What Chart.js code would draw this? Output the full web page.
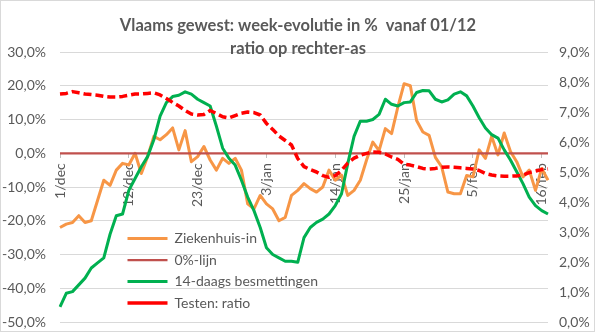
<!DOCTYPE html>
<html>
<head>
<meta charset="utf-8">
<script src="https://cdn.jsdelivr.net/npm/chart.js@4/dist/chart.umd.min.js"></script>
<style>
  body { margin: 0; background: #fff; }
  canvas { display: block; }
</style>
</head>
<body>
<canvas id="chart" width="595" height="332"></canvas>
<script>
/* DATA */

const titleLines = ['Vlaams gewest: week-evolutie in %  vanaf 01/12', 'ratio op rechter-as'];

const days = [
  '1/dec', '2/dec', '3/dec', '4/dec', '5/dec', '6/dec', '7/dec', '8/dec', '9/dec', '10/dec',
  '11/dec', '12/dec', '13/dec', '14/dec', '15/dec', '16/dec', '17/dec', '18/dec', '19/dec', '20/dec',
  '21/dec', '22/dec', '23/dec', '24/dec', '25/dec', '26/dec', '27/dec', '28/dec', '29/dec', '30/dec',
  '31/dec', '1/jan', '2/jan', '3/jan', '4/jan', '5/jan', '6/jan', '7/jan', '8/jan', '9/jan',
  '10/jan', '11/jan', '12/jan', '13/jan', '14/jan', '15/jan', '16/jan', '17/jan', '18/jan', '19/jan',
  '20/jan', '21/jan', '22/jan', '23/jan', '24/jan', '25/jan', '26/jan', '27/jan', '28/jan', '29/jan',
  '30/jan', '31/jan', '1/feb', '2/feb', '3/feb', '4/feb', '5/feb', '6/feb', '7/feb', '8/feb',
  '9/feb', '10/feb', '11/feb', '12/feb', '13/feb', '14/feb', '15/feb', '16/feb', '17/feb',
];

// shown every 11 days on the axis
const shownDays = ['1/dec', '12/dec', '23/dec', '3/jan', '14/jan', '25/jan', '5/feb', '16/feb'];

const seriesNames = ['Ziekenhuis-in', '0%-lijn', '14-daags besmettingen', 'Testen: ratio'];

// left axis, % week-evolution
const hospital = [
  -22, -21, -20.5, -18.5, -20.5, -20, -14, -8, -9.5, -5,
  -3, -3.5, 0, -6, -1, 5, 4, 5.5, 7.5, 1,
  6.7, -2.5, -1, 2, -2, -5, -1.5, -3, -1.5, -5,
  -15, -16.5, -12.5, -15, -16.5, -20, -19, -12.5, -11, -9,
  -10.5, -11.5, -10, -5, -8, -6.5, -12.5, -11, -8, -2,
  3.3, 0.8, 7.3, 5.8, 13.7, 20.6, 20, 9.7, 6.3, 5.3,
  -1.2, -4, -11.5, -12, -12, -6.6, -7, 1, -1.5, 5,
  -0.5, 6, 0.5, -2.5, -7, -5, -11, -4.5, -8,
];

const zeroLine = days.map(() => 0);

const infections = [
  -45.5, -41.5, -41, -39, -37, -34, -32.5, -31, -24, -18.5,
  -18, -11, -7.5, -4, -1, 4, 11, 15, 16.8, 17.2,
  18.2, 17.5, 16, 15, 14, 8, 1.5, -1.5, -3.5, -8,
  -13, -17, -22, -28, -30, -31, -32, -32, -32.3, -25,
  -22, -20.5, -19.5, -18, -15.5, -12, -3, 5, 9.5, 9.5,
  10, 11.5, 16, 14.5, 14, 15, 15.2, 18, 18.6, 18.5,
  16, 15.2, 15.8, 17.5, 18.2, 17, 14, 10.5, 7.5, 5.5,
  4.5, 1, -2, -5.5, -9, -13, -15.5, -17, -18,
];

// right axis, positivity ratio in %
const testRatio = [
  7.6, 7.62, 7.68, 7.64, 7.6, 7.58, 7.56, 7.52, 7.5, 7.5,
  7.52, 7.56, 7.6, 7.6, 7.62, 7.64, 7.57, 7.45, 7.32, 7.2,
  7.05, 6.93, 6.9, 6.92, 7.05, 6.95, 6.84, 6.8, 6.88, 6.96,
  7.0, 6.98, 6.9, 6.62, 6.42, 6.2, 6.05, 5.9, 5.45, 5.18,
  5.08, 5.0, 4.88, 4.82, 4.88, 5.05, 5.3, 5.46, 5.56, 5.62,
  5.67, 5.66, 5.6, 5.5, 5.42, 5.26, 5.23, 5.18, 5.12, 5.1,
  5.12, 5.16, 5.17, 5.16, 5.14, 5.12, 5.1, 5.05, 4.95, 4.9,
  4.87, 4.86, 4.86, 4.87, 4.9, 4.98, 5.03, 5.08, 5.1,
];

const leftTicks = { min: -50, max: 30, step: 10 };
const rightTicks = { min: 0, max: 9, step: 1 };

/* STYLE */

const textColor = '#595959';
const gridColor = '#d9d9d9';
const fontFamily = "'Lato', 'Open Sans', sans-serif";

const pct = (v) => `${v.toFixed(1).replace('.', ',')}%`;

/* PLUGINS */

// white background and thin frame like the spreadsheet chart
const chartFrame = {
  id: 'chartFrame',
  beforeDraw(chart) {
    const { ctx, width, height } = chart;
    ctx.save();
    ctx.fillStyle = '#ffffff';
    ctx.fillRect(0, 0, width, height);
    ctx.strokeStyle = gridColor;
    ctx.lineWidth = 1;
    ctx.strokeRect(0.5, 0.5, width - 1, height - 1);
    ctx.restore();
  },
};

// two-line title, drawn over the top gridline
const chartTitle = {
  id: 'chartTitle',
  afterDraw(chart) {
    const { ctx } = chart;
    ctx.save();
    ctx.font = `bold 16.5px ${fontFamily}`;
    ctx.fillStyle = textColor;
    ctx.textAlign = 'center';
    ctx.textBaseline = 'middle';
    ctx.fillText(titleLines[0], 298, 26);
    ctx.fillText(titleLines[1], 298, 49);
    ctx.restore();
  },
};

// move legend into the lower left of the plot
const legendPosition = {
  id: 'legendPosition',
  beforeDraw(chart) {
    const { legend } = chart;
    legend.left = 120;
    legend.right = 400;
    legend.top = 224;
    legend.bottom = 330;
  },
};

/* CONFIG */

const config = {
  type: 'line',
  data: {
    labels: days,
    datasets: [
      {
        label: seriesNames[0],
        data: hospital,
        yAxisID: 'y',
        borderColor: '#F79646',
        backgroundColor: '#F79646',
        borderWidth: 3,
        order: 3,
      },
      {
        label: seriesNames[1],
        data: zeroLine,
        yAxisID: 'y',
        borderColor: '#C0504D',
        backgroundColor: '#C0504D',
        borderWidth: 2.25,
        order: 2,
      },
      {
        label: seriesNames[2],
        data: infections,
        yAxisID: 'y',
        borderColor: '#00B050',
        backgroundColor: '#00B050',
        borderWidth: 3,
        order: 1,
      },
      {
        label: seriesNames[3],
        data: testRatio,
        yAxisID: 'y1',
        borderColor: '#FF0000',
        backgroundColor: '#FF0000',
        borderWidth: 3.5,
        borderDash: [8, 4],
        order: 0,
      },
    ],
  },
  options: {
    responsive: false,
    animation: false,
    devicePixelRatio: 1,
    layout: { padding: { top: 52, bottom: 10, left: 0, right: 0 } },
    elements: {
      point: { radius: 0 },
      line: { tension: 0, borderJoinStyle: 'round' },
    },
    plugins: {
      title: { display: false },
      tooltip: { enabled: false },
      legend: {
        position: 'chartArea',
        align: 'start',
        reverse: true,
        labels: {
          color: textColor,
          font: { family: fontFamily, size: 14 },
          usePointStyle: true,
          pointStyle: 'line',
          pointStyleWidth: 40,
          boxWidth: 40,
          padding: 7.5,
        },
      },
    },
    scales: {
      x: {
        position: { y: 0 },
        grid: {
          drawOnChartArea: false,
          drawTicks: true,
          tickLength: 5,
          color: '#bfbfbf',
        },
        border: { display: false },
        ticks: {
          autoSkip: false,
          minRotation: 90,
          maxRotation: 90,
          padding: 5,
          color: textColor,
          font: { family: fontFamily, size: 14 },
          callback(value, index) {
            const day = days[index];
            return shownDays.includes(day) ? day : null;
          },
        },
      },
      y: {
        position: 'left',
        min: leftTicks.min,
        max: leftTicks.max,
        ticks: {
          stepSize: leftTicks.step,
          color: textColor,
          font: { family: fontFamily, size: 14 },
          padding: 0,
          callback: (v) => pct(v),
        },
        // invisible ticks keep the label gap without padding the plot bottom
        grid: { color: gridColor, tickColor: 'transparent', tickLength: 14, lineWidth: 1 },
        border: { display: false },
        afterFit(scale) { scale.width = 60; },
      },
      y1: {
        position: 'right',
        min: rightTicks.min,
        max: rightTicks.max,
        ticks: {
          stepSize: rightTicks.step,
          color: textColor,
          font: { family: fontFamily, size: 14 },
          padding: 0,
          callback: (v) => pct(v),
        },
        grid: { drawOnChartArea: false, tickColor: 'transparent', tickLength: 11 },
        border: { display: false },
        afterFit(scale) { scale.width = 47; },
      },
    },
  },
  plugins: [chartFrame, legendPosition, chartTitle],
};

/* CHART */

const myChart = new Chart(document.getElementById('chart').getContext('2d'), config);
</script>
</body>
</html>
